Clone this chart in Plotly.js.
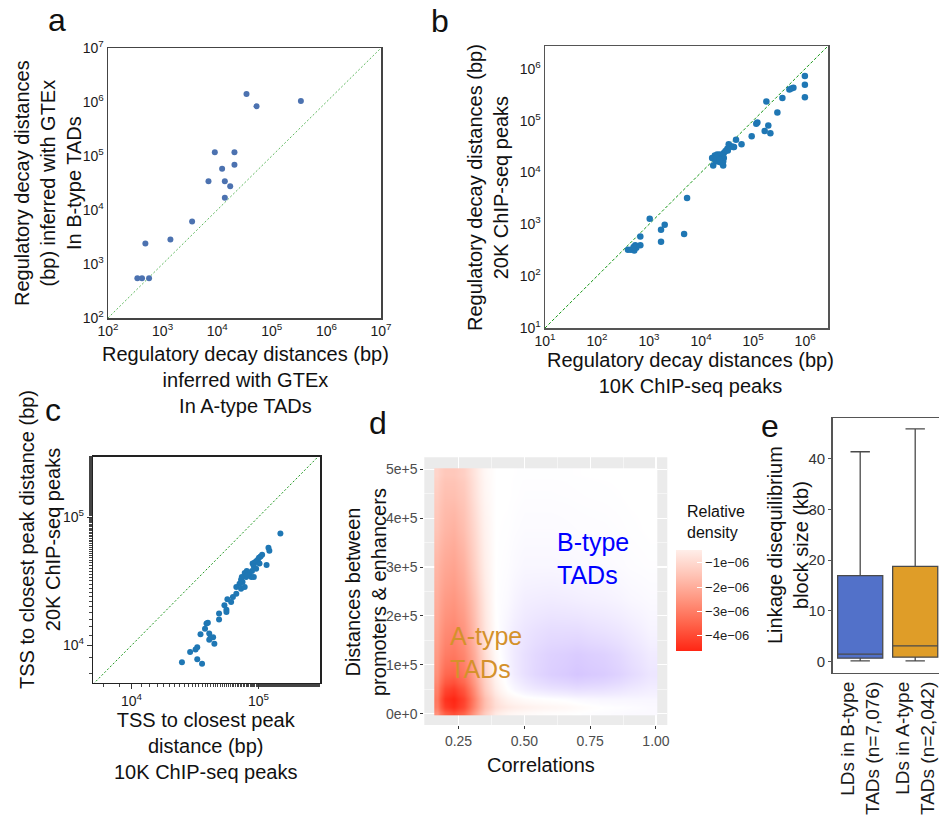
<!DOCTYPE html>
<html>
<head>
<meta charset="utf-8">
<script src="https://cdn.plot.ly/plotly-3.0.1.min.js"></script>
<style>html,body{margin:0;padding:0;overflow:hidden;background:#fff}#chart{width:946px;height:827px}</style>
</head>
<body>
<div id="chart"></div>
<script>
// ---------- DATA ----------
// Panel a: regulatory decay distances (bp), A-type TADs (x) vs B-type TADs (y)
const aX = [34400, 52500, 341000, 9040, 20700, 12300, 20700, 6920, 13800, 17300, 13800, 3470, 1390, 484, 345, 420, 565];
const aY = [1400000, 830000, 1040000, 117000, 117000, 58300, 69200, 34000, 34000, 27400, 16900, 6140, 2840, 2400, 545, 545, 545];
const aRange = [1e2, 1e7];

// Panel b: 10K ChIP-seq peaks (x) vs 20K ChIP-seq peaks (y)
const bX = [990000, 990000, 990000, 596000, 545000, 499000, 366000, 180000, 293000, 121000, 115000, 196000, 167000, 215000, 94000, 60000, 47000, 43000, 38000, 34000, 32000, 29500, 27400, 25500, 23000, 20400, 18400, 16300, 27400, 26600, 23700, 21000, 19000, 22000, 17100, 26600, 24400, 32700, 41500, 19800, 23000, 1030, 5380, 2000, 1700, 1700, 4720, 680, 680, 543, 393, 449, 520, 569, 505];
const bY = [730000, 490000, 284000, 430000, 418000, 400000, 272000, 234000, 144000, 92000, 87000, 81000, 63000, 57000, 50000, 35000, 43000, 31000, 32000, 35000, 28700, 25900, 23700, 21300, 22300, 22300, 21300, 19000, 19000, 16300, 15800, 16300, 16600, 18400, 13700, 13700, 15800, 26700, 30900, 19200, 17600, 1280, 3210, 982, 787, 462, 649, 585, 393, 393, 324, 324, 314, 354, 365];
const bRange = [10, 2.75e6];

// Panel c: TSS to closest peak distance (bp)
const cX = [149000, 120000, 122000, 116000, 107000, 104000, 101000, 99000, 96000, 93000, 90000, 92000, 102000, 96000, 89000, 85000, 81000, 78000, 74000, 73000, 80000, 88000, 92000, 82000, 75000, 71000, 67000, 73000, 78000, 67000, 63000, 61000, 57000, 54000, 56000, 56000, 49000, 49000, 39000, 40000, 38000, 41000, 42000, 44000, 41000, 45000, 35000, 33000, 32000, 29000, 33000, 36000, 25000];
const cY = [74600, 57700, 54700, 42300, 50900, 49400, 48300, 46600, 45200, 44100, 43400, 41300, 43400, 39600, 38000, 36700, 38000, 36700, 34100, 32500, 34100, 34100, 34100, 35200, 31200, 30300, 28500, 27700, 28500, 25300, 23800, 21800, 22900, 20600, 19000, 18200, 17700, 15900, 14800, 15000, 13500, 12400, 11500, 11600, 11100, 10300, 12200, 9700, 9300, 8900, 7800, 7200, 7400];
const cRange = [5000, 300000];

// Panel d: relative density grid (units of 1e-6; negative = A-type, positive = B-type)
const dCorrEdges = [0.158, 0.18, 0.215, 0.25, 0.29, 0.33, 0.37, 0.41, 0.46, 0.54, 0.66, 0.74, 0.86, 0.94, 1.006];
const dDistEdges = [-2700, 8000, 22000, 40000, 65000, 100000, 145000, 200000, 265000, 340000, 415000, 475000, 502000];
const dDensity = [
  [-2.6, -3.6, -3.9, -3.5, -2.4, -1.3, -0.6, -0.3, -0.15, -0.05, 0, 0.05, 0.1, 0.1],
  [-3.0, -4.2, -4.5, -4.0, -2.8, -1.6, -0.9, -0.6, -0.4, -0.25, -0.12, 0, 0.05, 0.1],
  [-3.1, -4.4, -4.62, -4.1, -2.9, -1.6, -0.8, -0.35, -0.1, 0, 0.1, 0.15, 0.15, 0.15],
  [-2.9, -4.0, -4.2, -3.7, -2.6, -1.3, -0.5, 0, 0.3, 0.5, 0.6, 0.55, 0.4, 0.3],
  [-2.6, -3.4, -3.5, -3.1, -2.2, -1.1, -0.3, 0.15, 0.55, 0.85, 1.0, 0.9, 0.65, 0.45],
  [-2.4, -3.0, -3.1, -2.8, -2.0, -0.9, -0.15, 0.2, 0.55, 0.8, 0.9, 0.8, 0.55, 0.35],
  [-2.2, -2.7, -2.8, -2.5, -1.7, -0.7, -0.05, 0.2, 0.45, 0.6, 0.6, 0.5, 0.35, 0.2],
  [-2.0, -2.4, -2.5, -2.2, -1.5, -0.6, 0, 0.1, 0.3, 0.35, 0.3, 0.25, 0.15, 0.1],
  [-1.8, -2.1, -2.2, -1.9, -1.2, -0.45, 0, 0.05, 0.15, 0.15, 0.12, 0.1, 0.05, 0.03],
  [-1.5, -1.8, -1.9, -1.6, -1.0, -0.35, 0, 0.02, 0.08, 0.08, 0.06, 0.05, 0.02, 0],
  [-1.3, -1.6, -1.6, -1.4, -0.8, -0.25, 0, 0, 0.04, 0.04, 0.03, 0.02, 0, 0],
  [-1.1, -1.4, -1.4, -1.2, -0.7, -0.2, 0, 0, 0.02, 0.02, 0.01, 0, 0, 0]
];
const dYTickVals = [0, 100000, 200000, 300000, 400000, 500000];
const dYTickText = ['0e+0', '1e+5', '2e+5', '3e+5', '4e+5', '5e+5'];
const dXTickVals = [0.25, 0.5, 0.75, 1.0];
const dXTickText = ['0.25', '0.50', '0.75', '1.00'];
const dLegendVals = [-1, -2, -3, -4];
const dLegendText = ['\u22121e\u221206', '\u22122e\u221206', '\u22123e\u221206', '\u22124e\u221206'];
const dLegendRange = [-4.62, -0.48];

// Panel e: LD block size (kb) box statistics
const eCategories = ['LDs in B-type<br>TADs (n=7,076)', 'LDs in A-type<br>TADs (n=2,042)'];
const eLower = [0.14, 0.14];
const eQ1 = [0.67, 0.87];
const eMedian = [1.46, 3.1];
const eQ3 = [16.96, 18.8];
const eUpper = [41.4, 45.9];

// Log tick labels
const logTicks = (lo, hi) => { const v = [], t = []; for (let p = lo; p <= hi; p++) { v.push(Math.pow(10, p)); t.push('10<sup>' + p + '</sup>'); } return {v, t}; };
const aT = logTicks(2, 7), bT = logTicks(1, 6), cT = logTicks(4, 5);

// ---------- STYLE ----------
const W = 946, H = 827;
const FONT = 'Liberation Sans, Arial, sans-serif';
const px = v => v / W, py = v => 1 - v / H;
const dom = (a, b) => [px(a), px(b)];
const vdom = (top, bottom) => [py(bottom), py(top)];

// diverging scale for panel d
const dStops = [[-4.62, 'rgb(255,38,20)'], [-3.5, 'rgb(255,100,75)'], [-2.5, 'rgb(255,150,128)'], [-1.5, 'rgb(255,196,182)'], [-0.48, 'rgb(255,238,233)'], [0, 'rgb(255,255,255)'], [1.0, 'rgb(214,198,255)']];
const zmin = dStops[0][0], zmax = dStops[dStops.length - 1][0];
const dScale = dStops.map(s => [(s[0] - zmin) / (zmax - zmin), s[1]]);
const redStops = dStops.filter(s => s[0] <= dLegendRange[1]);
const redScale = redStops.map(s => [(s[0] - dLegendRange[0]) / (dLegendRange[1] - dLegendRange[0]), s[1]]);

const traces = [
  // panel a
  {type: 'scatter', mode: 'lines', x: aRange, y: aRange, xaxis: 'x', yaxis: 'y', line: {color: 'rgb(95,185,95)', width: 1, dash: '2px,2px'}, hoverinfo: 'skip'},
  {type: 'scatter', mode: 'markers', x: aX, y: aY, xaxis: 'x', yaxis: 'y', marker: {color: '#4C72B0', size: 6}},
  // panel b
  {type: 'scatter', mode: 'lines', x: bRange, y: bRange, xaxis: 'x2', yaxis: 'y2', line: {color: 'rgb(20,150,20)', width: 1, dash: '3px,2px'}, hoverinfo: 'skip'},
  {type: 'scatter', mode: 'markers', x: bX, y: bY, xaxis: 'x2', yaxis: 'y2', marker: {color: '#1f77b4', size: 6.5}},
  // panel c
  {type: 'scatter', mode: 'lines', x: cRange, y: cRange, xaxis: 'x3', yaxis: 'y3', line: {color: 'rgb(30,150,30)', width: 1, dash: '2px,2px'}, hoverinfo: 'skip'},
  {type: 'scatter', mode: 'markers', x: cX, y: cY, xaxis: 'x3', yaxis: 'y3', marker: {color: '#1f77b4', size: 6}},
  // panel d
  {type: 'heatmap', x: dCorrEdges, y: dDistEdges, z: dDensity, xaxis: 'x4', yaxis: 'y4', zsmooth: 'best', colorscale: dScale, zmin: zmin, zmax: zmax, showscale: false, hoverinfo: 'skip'},
  {type: 'scatter', mode: 'markers', x: [0.6], y: [250000], xaxis: 'x4', yaxis: 'y4', hoverinfo: 'skip',
   marker: {size: 1, opacity: 0, color: [-2], colorscale: redScale, cmin: dLegendRange[0], cmax: dLegendRange[1], showscale: true,
     colorbar: {x: px(676), xanchor: 'left', y: py(600.5), yanchor: 'middle', thickness: 26, thicknessmode: 'pixels', len: 101, lenmode: 'pixels', xpad: 0, ypad: 0,
       outlinewidth: 0, ticks: 'inside', tickcolor: 'white', ticklen: 5, tickwidth: 1, tickvals: dLegendVals, ticktext: dLegendText,
       tickfont: {family: FONT, size: 13, color: '#222'}}}},
  // panel e
  {type: 'box', orientation: 'v', x: [eCategories[0]], q1: [eQ1[0]], median: [eMedian[0]], q3: [eQ3[0]], lowerfence: [eLower[0]], upperfence: [eUpper[0]],
   xaxis: 'x5', yaxis: 'y5', fillcolor: '#5271C9', line: {color: '#4a4a4a', width: 1.3}, width: 0.82, whiskerwidth: 0.43, boxpoints: false, hoverinfo: 'skip'},
  {type: 'box', orientation: 'v', x: [eCategories[1]], q1: [eQ1[1]], median: [eMedian[1]], q3: [eQ3[1]], lowerfence: [eLower[1]], upperfence: [eUpper[1]],
   xaxis: 'x5', yaxis: 'y5', fillcolor: '#DF9D28', line: {color: '#4a4a4a', width: 1.3}, width: 0.82, whiskerwidth: 0.43, boxpoints: false, hoverinfo: 'skip'}
];

const tickF = s => ({family: FONT, size: s, color: '#1a1a1a'});
const logAxis = (domain, anchor, range, T, lineColor) => ({domain, anchor, type: 'log', range, tickvals: T.v, ticktext: T.t, tickfont: tickF(14),
  showgrid: false, zeroline: false, showline: true, mirror: true, linecolor: lineColor, linewidth: 1.5, ticks: '', fixedrange: true});

const layout = {
  width: W, height: H, margin: {l: 0, r: 0, t: 0, b: 0}, paper_bgcolor: '#fff', plot_bgcolor: 'rgba(0,0,0,0)',
  showlegend: false, font: {family: FONT, color: '#1a1a1a'}, boxmode: 'overlay',
  xaxis: logAxis(dom(108, 381), 'y', [2, 7], aT, '#444'),
  yaxis: logAxis(vdom(48, 318), 'x', [2, 7], aT, '#444'),
  xaxis2: logAxis(dom(545, 828), 'y2', [1, 6.44], bT, '#555'),
  yaxis2: logAxis(vdom(46, 328), 'x2', [1, 6.44], bT, '#555'),
  xaxis3: Object.assign(logAxis(dom(93.3, 320), 'y3', [3.70, 5.485], cT, '#222'), {ticks: 'outside', ticklen: 5, tickcolor: '#333', minor: {ticks: 'outside', ticklen: 3, tickcolor: '#444', showgrid: false}}),
  yaxis3: Object.assign(logAxis(vdom(456.7, 682.7), 'x3', [3.71, 5.47], cT, '#222'), {ticks: 'outside', ticklen: 5, tickcolor: '#333', minor: {ticks: 'outside', ticklen: 3, tickcolor: '#444', showgrid: false}}),
  xaxis4: {domain: dom(424.3, 667.3), anchor: 'y4', range: [0.12, 1.043], tickvals: dXTickVals, ticktext: dXTickText, tickfont: {family: FONT, size: 14, color: '#4D4D4D'},
    ticks: 'outside', ticklen: 3, tickcolor: '#333', showgrid: true, gridcolor: '#fff', gridwidth: 1.1, zeroline: false, showline: false,
    minor: {tickvals: [0.375, 0.625, 0.875], showgrid: true, gridcolor: '#fff', gridwidth: 0.5, ticks: ''}, fixedrange: true},
  yaxis4: {domain: vdom(457.3, 725), anchor: 'x4', range: [-23100, 524500], tickvals: dYTickVals, ticktext: dYTickText, tickfont: {family: FONT, size: 14, color: '#4D4D4D'},
    ticks: 'outside', ticklen: 3, tickcolor: '#333', showgrid: true, gridcolor: '#fff', gridwidth: 1.1, zeroline: false, showline: false,
    minor: {tickvals: [50000, 150000, 250000, 350000, 450000], showgrid: true, gridcolor: '#fff', gridwidth: 0.5, ticks: ''}, fixedrange: true},
  xaxis5: {domain: dom(832.7, 942.7), anchor: 'y5', type: 'category', range: [-0.5, 1.5], tickangle: -90, tickfont: {family: FONT, size: 19, color: '#1a1a1a'},
    ticks: '', showline: true, mirror: true, linecolor: '#555', linewidth: 1.5, showgrid: false, zeroline: false, fixedrange: true},
  yaxis5: {domain: vdom(418.3, 672.7), anchor: 'x5', range: [-2.2, 48], tickvals: [0, 10, 20, 30, 40], tickfont: {family: FONT, size: 15, color: '#333'},
    ticks: 'outside', ticklen: 3, tickcolor: '#555', showline: true, mirror: true, linecolor: '#555', linewidth: 1.5, showgrid: false, zeroline: false, fixedrange: true},
  shapes: [
    {type: 'rect', xref: 'x4 domain', yref: 'y4 domain', x0: 0, x1: 1, y0: 0, y1: 1, fillcolor: '#EBEBEB', line: {width: 0}, layer: 'below'}
  ],
  annotations: []
};

const ann = (text, x, y, size, opts) => Object.assign({text, x: px(x), y: py(y), xref: 'paper', yref: 'paper', showarrow: false,
  xanchor: 'center', yanchor: 'middle', font: {family: FONT, size, color: '#111'}}, opts || {});
layout.annotations.push(
  ann('a', 57, 20, 32), ann('b', 440, 21, 32), ann('c', 53, 410, 32), ann('d', 378, 423, 32), ann('e', 770, 426, 32),
  ann('Regulatory decay distances<br>(bp) inferred with GTEx<br>In B-type TADs', 48, 183, 20, {textangle: -90}),
  ann('Regulatory decay distances (bp)<br>inferred with GTEx<br>In A-type TADs', 245, 380, 20),
  ann('Regulatory decay distances (bp)<br>20K ChIP-seq peaks', 488, 187, 20, {textangle: -90}),
  ann('Regulatory decay distances (bp)<br>10K ChIP-seq peaks', 690, 373, 20),
  ann('TSS to closest peak distance (bp)<br>20K ChIP-seq peaks', 40, 540, 20, {textangle: -90}),
  ann('TSS to closest peak<br>distance (bp)<br>10K ChIP-seq peaks', 205, 746, 20),
  ann('Distances between<br>promoters &amp; enhancers', 366, 592, 20, {textangle: -90}),
  ann('Correlations', 541, 765, 20),
  ann('Relative<br>density', 685, 522, 16, {xanchor: 'left', align: 'left'}),
  ann('B-type<br>TADs', 555, 558, 25, {xanchor: 'left', align: 'left', font: {family: FONT, size: 25, color: '#0000FF'}}),
  ann('A-type<br>TADs', 448, 652, 25, {xanchor: 'left', align: 'left', font: {family: FONT, size: 25, color: '#D4912B'}}),
  ann('Linkage disequilibrium<br>block size (kb)', 788, 545, 20, {textangle: -90})
);

Plotly.newPlot('chart', traces, layout, {staticPlot: true, displayModeBar: false});
</script>
</body>
</html>
